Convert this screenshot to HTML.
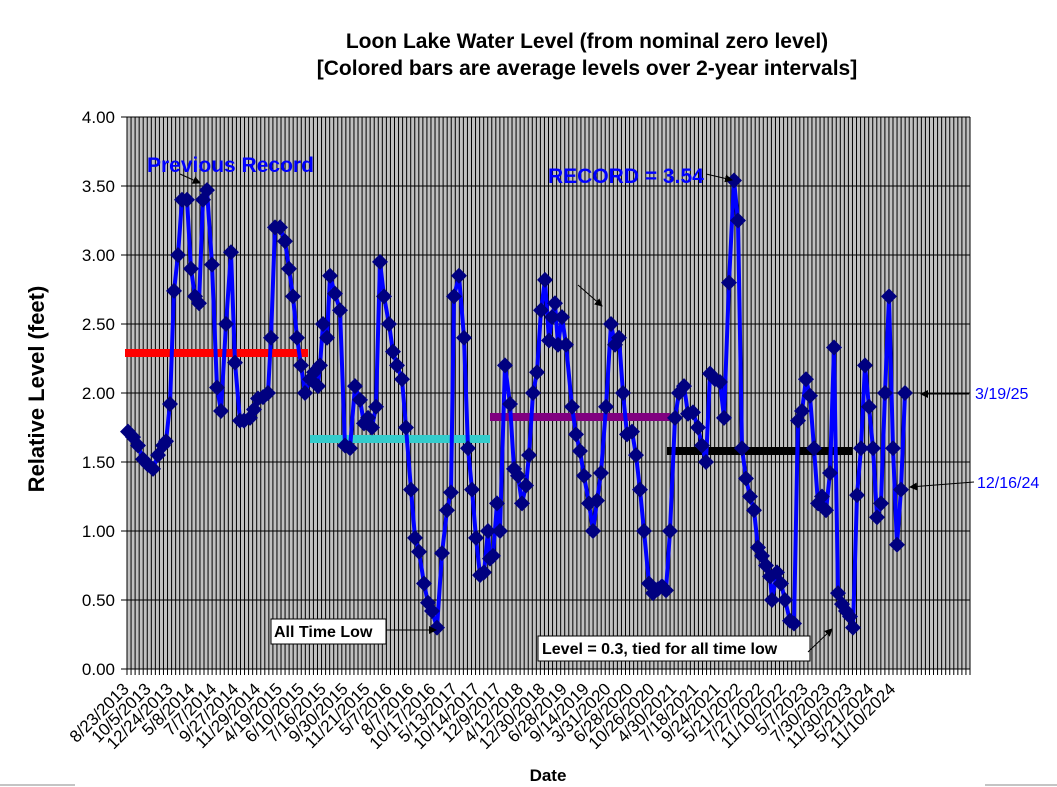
<!DOCTYPE html>
<html><head><meta charset="utf-8"><style>
body{margin:0;background:#fff;}
svg{display:block;font-family:"Liberation Sans",Arial,sans-serif;}
</style></head><body>
<svg id="s" width="1057" height="787" viewBox="0 0 1057 787" xmlns="http://www.w3.org/2000/svg">
<defs><marker id="ah" markerWidth="8" markerHeight="8" refX="7" refY="4" orient="auto" markerUnits="userSpaceOnUse"><path d="M0,0 L8,4 L0,8 z" fill="#000"/></marker></defs>
<text x="587" y="48" font-size="21" font-weight="bold" text-anchor="middle">Loon Lake Water Level (from nominal zero level)</text>
<text x="587" y="75" font-size="21" font-weight="bold" text-anchor="middle">[Colored bars are average levels over 2-year intervals]</text>
<rect x="127" y="117" width="843" height="552" fill="#c0c0c0"/>
<g id="grid"></g>
<g id="bars">
<line x1="125" y1="353" x2="308" y2="353" stroke="#ff0000" stroke-width="8"/>
<line x1="310" y1="439" x2="490" y2="439" stroke="#33cccc" stroke-width="8"/>
<line x1="490" y1="417" x2="670" y2="417" stroke="#800080" stroke-width="8"/>
<line x1="667" y1="451" x2="852" y2="451" stroke="#000" stroke-width="8"/>
</g>
<g id="series"></g>
<g id="labels" font-size="17"></g>
<text x="0" y="0" font-size="22" font-weight="bold" text-anchor="middle" transform="translate(44,389) rotate(-90)">Relative Level (feet)</text>
<text x="548" y="781" font-size="17" font-weight="bold" text-anchor="middle">Date</text>
<text x="147" y="172" font-size="21" font-weight="bold" fill="#0000ff">Previous Record</text>
<line x1="180" y1="174" x2="200" y2="183" stroke="#000" marker-end="url(#ah)"/>
<text x="548" y="183" font-size="21" font-weight="bold" fill="#0000ff">RECORD = 3.54</text>
<line x1="706" y1="174" x2="732" y2="180" stroke="#000" marker-end="url(#ah)"/>
<line x1="578" y1="285" x2="602" y2="306" stroke="#000" marker-end="url(#ah)"/>
<rect x="271" y="619" width="115" height="25" fill="#fff" stroke="#000"/>
<text x="274" y="637" font-size="16" font-weight="bold">All Time Low</text>
<line x1="386" y1="630" x2="436" y2="630" stroke="#000" marker-end="url(#ah)"/>
<rect x="538" y="636" width="272" height="25" fill="#fff" stroke="#000"/>
<text x="542" y="654" font-size="16" font-weight="bold">Level = 0.3, tied for all time low</text>
<line x1="808" y1="652" x2="832" y2="629" stroke="#000" marker-end="url(#ah)"/>
<text x="975" y="399" font-size="16" fill="#0000ff">3/19/25</text>
<line x1="969" y1="394" x2="921" y2="394" stroke="#000" marker-end="url(#ah)"/>
<text x="977" y="488" font-size="16" fill="#0000ff">12/16/24</text>
<line x1="974" y1="482" x2="910" y2="487" stroke="#000" marker-end="url(#ah)"/>
<line x1="0" y1="785" x2="75" y2="785" stroke="#888"/>
<line x1="985" y1="785" x2="1057" y2="785" stroke="#888"/>
</svg>
<script>
var NS="http://www.w3.org/2000/svg";
function el(p,t,a,txt){var e=document.createElementNS(NS,t);for(var k in a)e.setAttribute(k,a[k]);if(txt)e.textContent=txt;p.appendChild(e);return e;}
var g=document.getElementById("grid");
var x0=127,x1=970,n=208,dx=(x1-x0)/n;
for(var i=0;i<=n;i++){var x=x0+i*dx;el(g,"line",{x1:x,y1:117,x2:x,y2:675,stroke:"#000","stroke-width":1});}
for(var j=0;j<=8;j++){var y=669-j*69;el(g,"line",{x1:121,y1:y,x2:970,y2:y,stroke:"#000","stroke-width":1});}
el(g,"line",{x1:127,y1:117,x2:127,y2:669,stroke:"#000"});
var L=document.getElementById("labels");
for(var j=0;j<=8;j++){el(L,"text",{x:115,y:669-j*69+6,"text-anchor":"end"},(j*0.5).toFixed(2));}
var d=["8/23/2013","10/5/2013","12/24/2013","5/8/2014","7/7/2014","9/27/2014","11/29/2014","4/19/2015","6/10/2015","7/16/2015","9/30/2015","11/21/2015","5/7/2016","8/7/2016","10/17/2016","5/13/2017","10/14/2017","12/9/2017","4/12/2018","12/30/2018","6/28/2019","9/14/2019","3/31/2020","6/28/2020","10/26/2020","4/30/2021","7/18/2021","9/24/2021","5/21/2022","7/27/2022","11/10/2022","5/7/2023","7/30/2023","11/30/2023","5/21/2024","11/10/2024"];
for(var i=0;i<d.length;i++){var x=130+i*21.9;el(L,"text",{x:0,y:0,"text-anchor":"end",transform:"translate("+x+",690) rotate(-45)"},d[i]);}
var P=[128,1.72,133,1.68,138,1.62,143,1.52,148,1.48,153,1.45,158,1.55,163,1.62,166,1.65,170,1.92,174,2.74,178,3.0,182,3.4,187,3.4,191,2.9,195,2.7,199,2.65,203,3.4,207,3.47,212,2.93,217,2.04,221,1.87,226,2.5,231,3.02,235,2.22,240,1.8,244,1.8,250,1.82,254,1.88,258,1.96,263,1.97,268,2.0,271,2.4,275,3.2,280,3.2,285,3.1,289,2.9,293,2.7,297,2.4,301,2.2,305,2.0,310,2.1,314,2.15,318,2.05,320,2.2,323,2.5,327,2.4,330,2.85,335,2.72,340,2.6,345,1.62,350,1.6,355,2.05,360,1.95,364,1.78,368,1.82,372,1.75,376,1.9,380,2.95,384,2.7,389,2.5,393,2.3,397,2.2,402,2.1,406,1.75,411,1.3,415,0.95,419,0.85,424,0.62,428,0.48,432,0.42,437,0.3,442,0.84,447,1.15,451,1.28,454,2.7,459,2.85,464,2.4,468,1.6,472,1.3,476,0.95,480,0.68,484,0.7,488,1.0,490,0.8,493,0.82,497,1.2,500,1.0,505,2.2,510,1.92,514,1.45,518,1.4,522,1.2,526,1.33,529,1.55,533,2.0,537,2.15,541,2.6,545,2.82,549,2.38,552,2.55,555,2.65,558,2.35,562,2.55,566,2.35,572,1.9,576,1.7,580,1.58,584,1.4,589,1.2,593,1.0,597,1.22,601,1.42,606,1.9,611,2.5,615,2.35,619,2.4,623,2.0,627,1.7,632,1.72,636,1.55,640,1.3,644,1.0,649,0.62,653,0.55,658,0.58,662,0.6,666,0.57,670,1.0,675,1.82,679,2.0,684,2.05,688,1.85,693,1.86,698,1.75,702,1.62,706,1.5,710,2.14,715,2.1,720,2.08,724,1.82,729,2.8,734,3.54,738,3.25,742,1.6,746,1.38,750,1.25,754,1.15,758,0.88,762,0.82,766,0.75,770,0.67,772,0.5,777,0.7,781,0.62,785,0.5,790,0.35,794,0.33,798,1.8,802,1.87,806,2.1,810,1.98,814,1.6,818,1.2,822,1.25,826,1.15,830,1.42,834,2.33,838,0.55,842,0.47,846,0.42,850,0.38,853,0.3,857,1.26,861,1.6,865,2.2,869,1.9,873,1.6,877,1.1,881,1.2,885,2.0,889,2.7,893,1.6,897,0.9,901,1.3,905,2.0];
var S=document.getElementById("series"),pts=[];
for(var i=0;i<P.length;i+=2)pts.push(P[i]+","+(669-P[i+1]*138).toFixed(1));
el(S,"polyline",{points:pts.join(" "),fill:"none",stroke:"#0000ff","stroke-width":4,"stroke-linejoin":"round"});
for(var i=0;i<P.length;i+=2){var x=P[i],y=669-P[i+1]*138;el(S,"path",{d:"M"+x+","+(y-8)+" L"+(x+8)+","+y+" L"+x+","+(y+8)+" L"+(x-8)+","+y+" z",fill:"#000080"});}
</script>
</body></html>
